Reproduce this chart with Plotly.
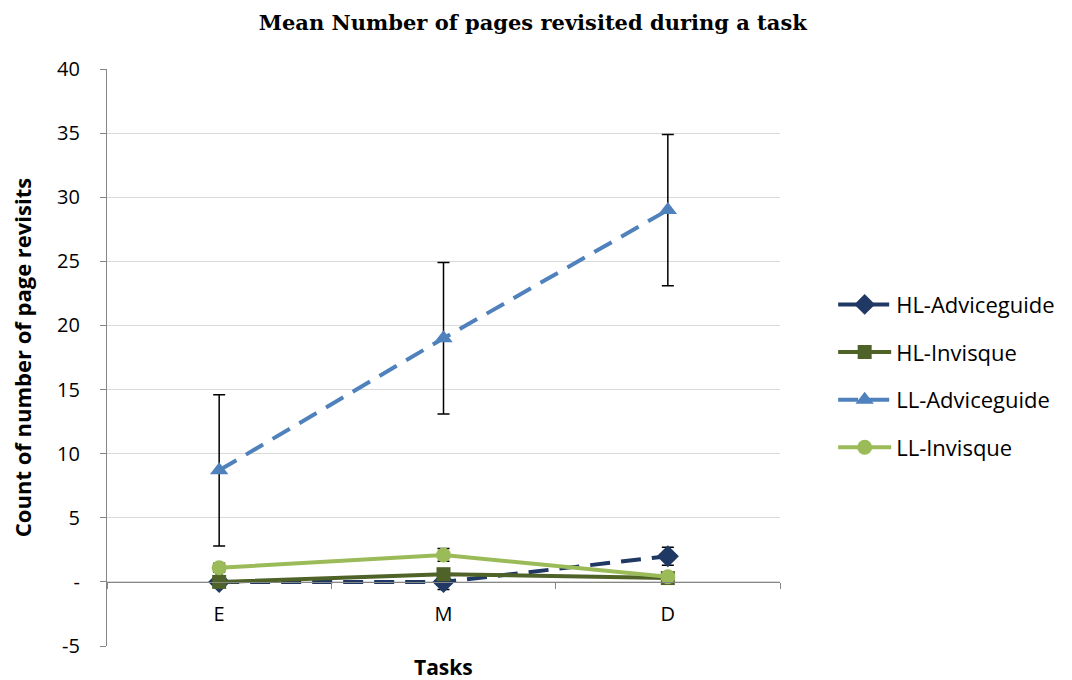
import plotly.graph_objects as go

tasks = ["E", "M", "D"]
series_names = ["HL-Adviceguide", "HL-Invisque", "LL-Adviceguide", "LL-Invisque"]
hl_adviceguide = [0.0, 0.0, 2.0]
hl_adviceguide_err = [0.3, 0.6, 0.7]
hl_invisque = [0.0, 0.6, 0.3]
hl_invisque_err = [0.3, 0.4, 0.2]
ll_adviceguide = [8.7, 19.0, 29.0]
ll_adviceguide_err = [5.9, 5.9, 5.9]
ll_invisque = [1.1, 2.1, 0.4]
ll_invisque_err = [0.35, 0.5, 0.3]

y_tickvals = [-5, 0, 5, 10, 15, 20, 25, 30, 35, 40]
y_ticktext = ["-5", "-", "5", "10", "15", "20", "25", "30", "35", "40"]

styles = [
    dict(color="#1F3864", dash="20px,11px", symbol="diamond", size=17),
    dict(color="#4F6228", dash="solid", symbol="square", size=14),
    dict(color="#4F81BD", dash="20px,11px", symbol="triangle-up", size=16),
    dict(color="#9BBB59", dash="solid", symbol="circle", size=15),
]
values = [hl_adviceguide, hl_invisque, ll_adviceguide, ll_invisque]
errors = [hl_adviceguide_err, hl_invisque_err, ll_adviceguide_err, ll_invisque_err]

fig = go.Figure()
for name, vals, errs, st in zip(series_names, values, errors, styles):
    fig.add_trace(go.Scatter(
        x=tasks, y=vals, name=name, mode="lines+markers",
        legendgroup=name,
        line=dict(color=st["color"], width=4, dash=st["dash"]),
        marker=dict(symbol=st["symbol"], size=st["size"], color=st["color"]),
        error_y=dict(type="data", array=errs, visible=True, color="black",
                     thickness=1.5, width=6),
    ))

font_main = "Open Sans, DejaVu Sans, sans-serif"
fig.update_layout(
    width=1072, height=680,
    paper_bgcolor="white", plot_bgcolor="white",
    margin=dict(l=107, r=292, t=69, b=34),
    title=dict(text="<b>Mean Number of pages revisited during a task</b>",
               x=0.497, xref="container", xanchor="center",
               y=0.966, yref="container", yanchor="middle",
               font=dict(family="DejaVu Serif, serif", size=21, color="black")),
    font=dict(family=font_main, size=20, color="black"),
    showlegend=True,
    legend=dict(x=1.079, xanchor="left", y=0.628, yanchor="top",
                font=dict(size=22, color="black", family=font_main),
                tracegroupgap=16, itemwidth=53,
                bgcolor="rgba(0,0,0,0)"),
    xaxis=dict(type="category", range=[-0.5, 2.5], anchor="free", position=5/45,
               showline=True, linecolor="#868686", linewidth=1.3,
               ticks="outside", tickson="boundaries", ticklen=6, tickcolor="#868686",
               showgrid=False, ticklabelstandoff=14,
               tickfont=dict(size=20, family=font_main)),
    yaxis=dict(range=[-5, 40], tickvals=y_tickvals, ticktext=y_ticktext,
               showline=True, linecolor="#868686", linewidth=1.3,
               ticks="outside", ticklen=6, tickcolor="#868686",
               showgrid=True, gridcolor="#D9D9D9", gridwidth=1, zeroline=False,
               ticklabelstandoff=16,
               tickfont=dict(size=20, family=font_main),
               title=dict(text="<b>Count of number of page revisits</b>", standoff=19,
                          font=dict(size=22, family=font_main))),
    annotations=[dict(text="<b>Tasks</b>", x=0.5, xref="paper", y=-0.036, yref="paper",
                      xanchor="center", yanchor="middle", showarrow=False,
                      font=dict(size=21, family=font_main))],
)

fig.write_html("out.html", config={"displayModeBar": False})

with open("out.html", "r", encoding="utf-8") as f:
    html = f.read()
html = html.replace("<body>", '<body style="margin:0;padding:0;overflow:hidden;">', 1)
with open("out.html", "w", encoding="utf-8") as f:
    f.write(html)
